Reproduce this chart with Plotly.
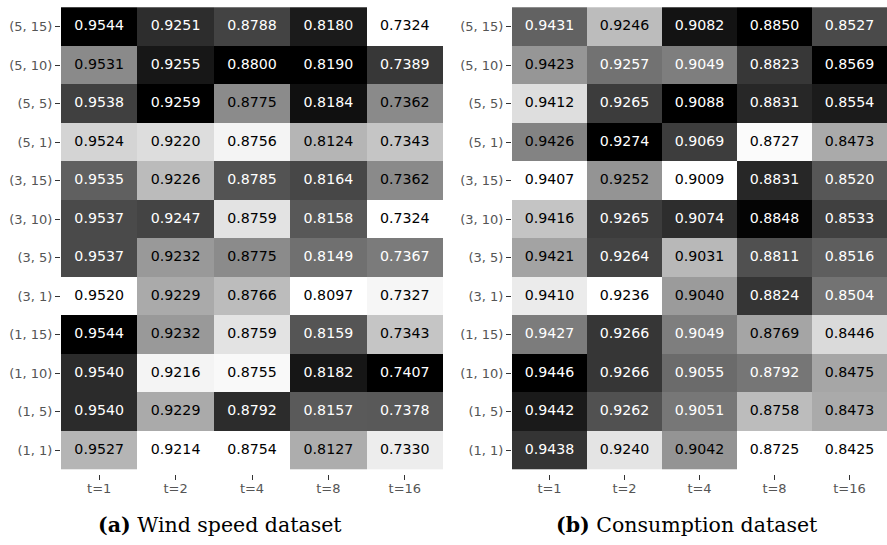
import plotly.graph_objects as go
import numpy as np

cols = ["t=1", "t=2", "t=4", "t=8", "t=16"]
# rows listed bottom to top
rows = ["(1, 1)", "(1, 5)", "(1, 10)", "(1, 15)", "(3, 1)", "(3, 5)",
        "(3, 10)", "(3, 15)", "(5, 1)", "(5, 5)", "(5, 10)", "(5, 15)"]

wind = [
    [0.9527, 0.9214, 0.8754, 0.8127, 0.7330],
    [0.9540, 0.9229, 0.8792, 0.8157, 0.7378],
    [0.9540, 0.9216, 0.8755, 0.8182, 0.7407],
    [0.9544, 0.9232, 0.8759, 0.8159, 0.7343],
    [0.9520, 0.9229, 0.8766, 0.8097, 0.7327],
    [0.9537, 0.9232, 0.8775, 0.8149, 0.7367],
    [0.9537, 0.9247, 0.8759, 0.8158, 0.7324],
    [0.9535, 0.9226, 0.8785, 0.8164, 0.7362],
    [0.9524, 0.9220, 0.8756, 0.8124, 0.7343],
    [0.9538, 0.9259, 0.8775, 0.8184, 0.7362],
    [0.9531, 0.9255, 0.8800, 0.8190, 0.7389],
    [0.9544, 0.9251, 0.8788, 0.8180, 0.7324],
]

consumption = [
    [0.9438, 0.9240, 0.9042, 0.8725, 0.8425],
    [0.9442, 0.9262, 0.9051, 0.8758, 0.8473],
    [0.9446, 0.9266, 0.9055, 0.8792, 0.8475],
    [0.9427, 0.9266, 0.9049, 0.8769, 0.8446],
    [0.9410, 0.9236, 0.9040, 0.8824, 0.8504],
    [0.9421, 0.9264, 0.9031, 0.8811, 0.8516],
    [0.9416, 0.9265, 0.9074, 0.8848, 0.8533],
    [0.9407, 0.9252, 0.9009, 0.8831, 0.8520],
    [0.9426, 0.9274, 0.9069, 0.8727, 0.8473],
    [0.9412, 0.9265, 0.9088, 0.8831, 0.8554],
    [0.9423, 0.9257, 0.9049, 0.8823, 0.8569],
    [0.9431, 0.9246, 0.9082, 0.8850, 0.8527],
]

captions = ["<b>(a)</b> Wind speed dataset", "<b>(b)</b> Consumption dataset"]

fig = go.Figure()
CELL_FONT = "DejaVu Sans, Verdana, sans-serif"

def add_panel(data, xa, ya):
    arr = np.array(data)
    mn = arr.min(axis=0)
    mx = arr.max(axis=0)
    norm = (arr - mn) / (mx - mn)
    fig.add_trace(go.Heatmap(
        z=norm, x=cols, y=rows, xaxis=xa, yaxis=ya,
        colorscale=[[0, "#ffffff"], [1, "#000000"]], zmin=0, zmax=1,
        showscale=False, hoverinfo="skip", xgap=0, ygap=0))
    for dark, color in [(True, "white"), (False, "black")]:
        xs, ys, ts = [], [], []
        for i, r in enumerate(rows):
            for j, c in enumerate(cols):
                if (norm[i, j] > 0.5) == dark:
                    xs.append(c); ys.append(r); ts.append(f"{arr[i, j]:.4f}")
        fig.add_trace(go.Scatter(
            x=xs, y=ys, text=ts, mode="text", xaxis=xa, yaxis=ya,
            textfont=dict(family=CELL_FONT, size=14.2, color=color),
            hoverinfo="skip", showlegend=False))

add_panel(wind, "x", "y")
add_panel(consumption, "x2", "y2")

ydom = [(545 - 474) / 545, (545 - 3) / 545]
axis_common = dict(showgrid=False, zeroline=False, showline=False,
                   ticks="outside", ticklen=5, tickwidth=1, tickcolor="#333",
                   tickfont=dict(family=CELL_FONT, size=13, color="#555"),
                   type="category")
xstand = dict(ticklabelstandoff=-3)

fig.update_layout(
    width=887, height=545,
    margin=dict(l=0, r=0, t=0, b=0),
    paper_bgcolor="white", plot_bgcolor="white",
    showlegend=False,
    xaxis=dict(domain=[61 / 887, 443 / 887], anchor="y", **xstand, **axis_common),
    yaxis=dict(domain=ydom, anchor="x", **axis_common),
    xaxis2=dict(domain=[512 / 887, 1.0], anchor="y2", **xstand, **axis_common),
    yaxis2=dict(domain=ydom, anchor="x2", **axis_common),
)

for cap, cx in zip(captions, [220, 687]):
    fig.add_annotation(
        text=cap, x=cx / 887, y=(545 - 525) / 545, xref="paper", yref="paper",
        showarrow=False, xanchor="center", yanchor="middle",
        font=dict(family="DejaVu Serif, serif", size=20.5, color="black"))

fig.write_html("out.html")
